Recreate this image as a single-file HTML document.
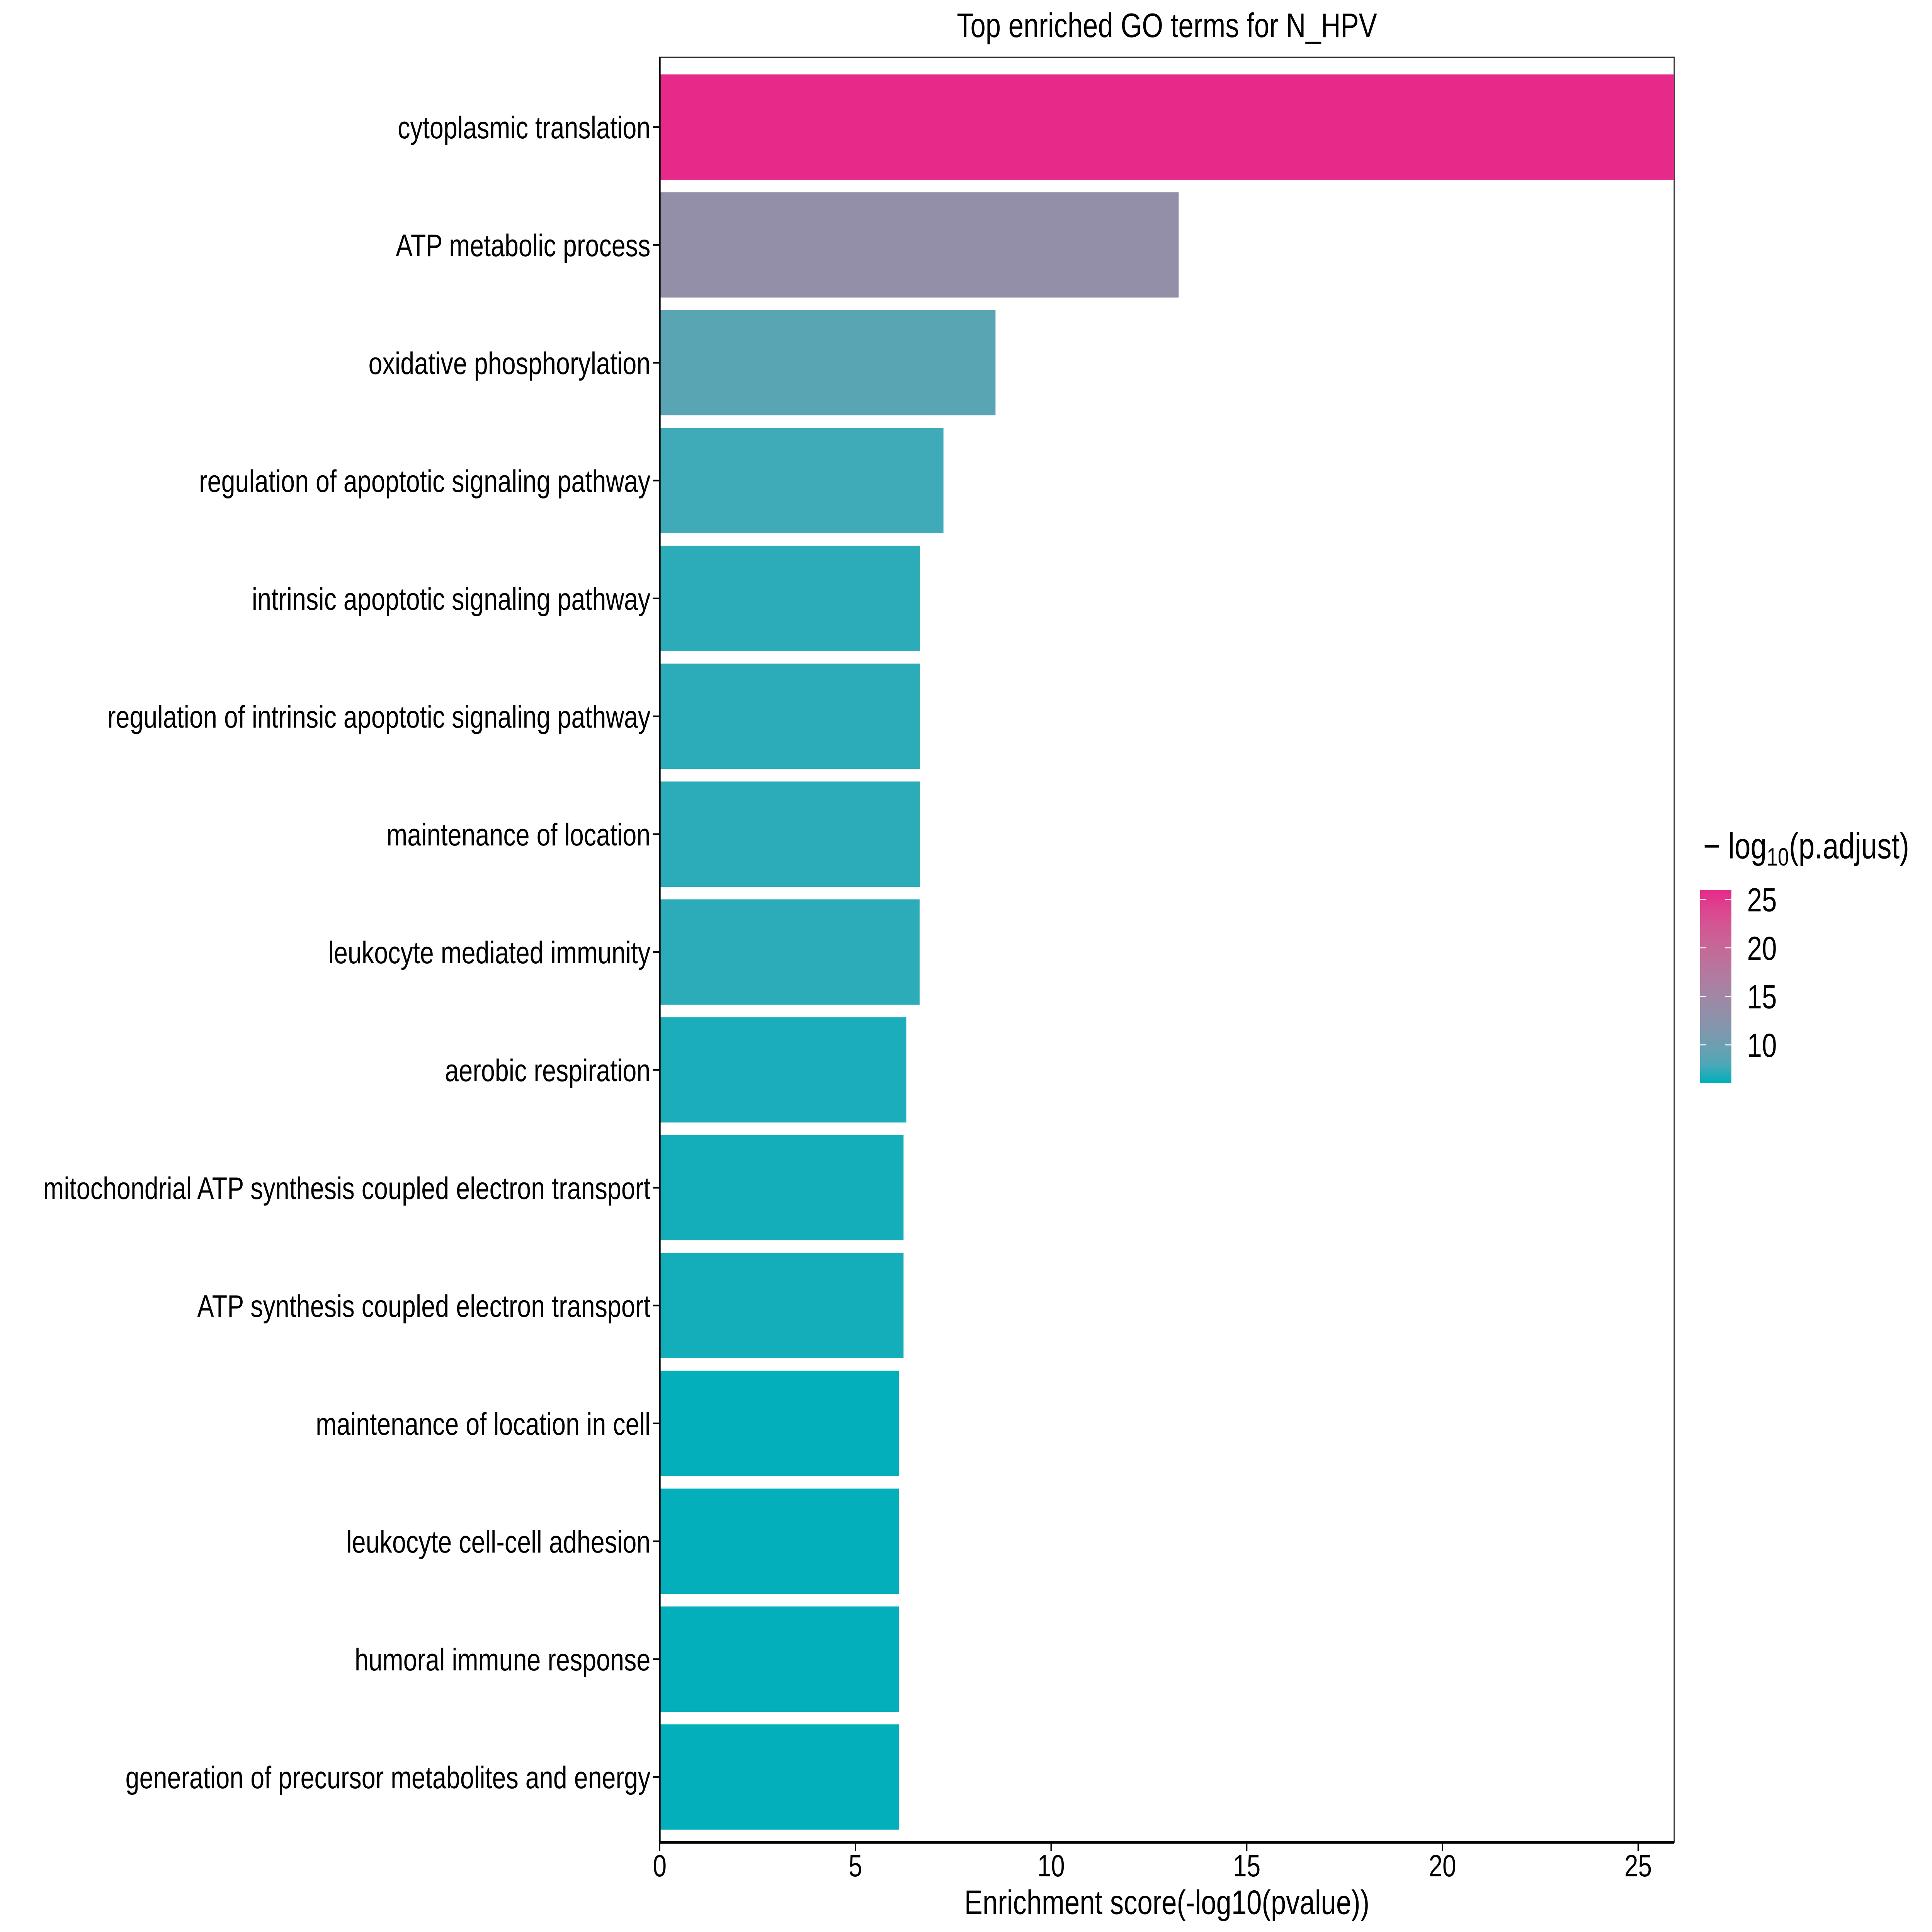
<!DOCTYPE html>
<html><head><meta charset="utf-8">
<style>
html,body{margin:0;padding:0;background:#fff;width:100%;height:100%;overflow:hidden;}
svg{display:block;font-family:"Liberation Sans",sans-serif;width:100vw;height:100vh;}
</style></head>
<body>
<svg id="chart" viewBox="0 0 7500 6000" preserveAspectRatio="none" xmlns="http://www.w3.org/2000/svg">
<defs>
<linearGradient id="cbar" x1="0" y1="1" x2="0" y2="0"></linearGradient>
</defs>
<text x="4530" y="115" font-size="106" text-anchor="middle">Top enriched GO terms for N_HPV</text>
<g id="plot"></g>
<text x="4530" y="5944" font-size="106" text-anchor="middle">Enrichment score(-log10(pvalue))</text>
<g id="legend">
<text x="6612" y="2666" font-size="112">− log<tspan font-size="78" dy="22">10</tspan><tspan dy="-22">(p.adjust)</tspan></text>
<rect x="6600" y="2764" width="121" height="599" fill="url(#cbar)"/>
<g id="cbticks"></g>
</g>
</svg>
<script>
const categories = ["cytoplasmic translation","ATP metabolic process","oxidative phosphorylation","regulation of apoptotic signaling pathway","intrinsic apoptotic signaling pathway","regulation of intrinsic apoptotic signaling pathway","maintenance of location","leukocyte mediated immunity","aerobic respiration","mitochondrial ATP synthesis coupled electron transport","ATP synthesis coupled electron transport","maintenance of location in cell","leukocyte cell-cell adhesion","humoral immune response","generation of precursor metabolites and energy"];
const scores = [25.92,13.26,8.58,7.25,6.65,6.65,6.65,6.64,6.30,6.23,6.23,6.11,6.11,6.11,6.11];
const padj = [25.9,13.3,8.6,7.3,6.7,6.7,6.7,6.7,6.35,6.25,6.25,6.1,6.1,6.1,6.1];
const xTicks = [0,5,10,15,20,25];
const legendTicks = [10,15,20,25];

const NS="http://www.w3.org/2000/svg";
const X0=2561, X1=6499, XMAX=25.92;
const xScale=v=>X0+(v-0)*(X1-X0)/XMAX;
const PT=178, PB=5722, FIRST=394.5, PITCH=366, BH=327;
const yScale=i=>FIRST+i*PITCH;
const cMin=6.08, cMax=25.96;
function toLin(c){c/=255;return c<=0.04045?c/12.92:Math.pow((c+0.055)/1.055,2.4);}
function fromLin(c){c=c<=0.0031308?12.92*c:1.055*Math.pow(c,1/2.4)-0.055;return Math.max(0,Math.min(255,Math.round(c*255)));}
function rgb2lab(r,g,b){r=toLin(r);g=toLin(g);b=toLin(b);
let x=(r*0.4124+g*0.3576+b*0.1805)/0.95047,y=r*0.2126+g*0.7152+b*0.0722,z=(r*0.0193+g*0.1192+b*0.9505)/1.08883;
const f=t=>t>0.008856?Math.cbrt(t):7.787*t+16/116;x=f(x);y=f(y);z=f(z);return [116*y-16,500*(x-y),200*(y-z)];}
function lab2rgb(L,a,bb){let y=(L+16)/116,x=a/500+y,z=y-bb/200;
const g=t=>t*t*t>0.008856?t*t*t:(t-16/116)/7.787;x=g(x)*0.95047;y=g(y);z=g(z)*1.08883;
const r=x*3.2406+y*-1.5372+z*-0.4986,gg=x*-0.9689+y*1.8758+z*0.0415,b=x*0.0557+y*-0.2040+z*1.0570;
return `rgb(${fromLin(r)},${fromLin(gg)},${fromLin(b)})`;}
const lo=rgb2lab(0,175,187), hi=rgb2lab(231,41,138);
function colorOf(v){let t=(v-cMin)/(cMax-cMin);t=Math.max(0,Math.min(1,t));return lab2rgb(lo[0]+(hi[0]-lo[0])*t,lo[1]+(hi[1]-lo[1])*t,lo[2]+(hi[2]-lo[2])*t);}
function mk(tag,attrs,parent){const e=document.createElementNS(NS,tag);for(const k in attrs)e.setAttribute(k,attrs[k]);parent.appendChild(e);return e;}

const plot=document.getElementById('plot');
const border=mk('rect',{x:X0,y:PT,width:X1-X0,height:PB-PT,fill:'none',stroke:'#333','stroke-width':4},plot);


categories.forEach((c,i)=>{
  const yc=yScale(i);
  const r=mk('rect',{x:X0,y:yc-BH/2,width:xScale(scores[i])-X0,height:BH,fill:colorOf(padj[i])},plot);
  
  
  const tk=mk('line',{x1:X0-26,x2:X0,y1:yc,y2:yc,stroke:'#000','stroke-width':5},plot);
  
  
  const t=mk('text',{x:X0-36,y:yc+35,'font-size':97,'text-anchor':'end'},plot);
  t.textContent=c;
  
  
});
const yax=mk('line',{x1:X0,x2:X0,y1:PT,y2:PB,stroke:'#000','stroke-width':7},plot);


const xax=mk('line',{x1:X0,x2:X1,y1:PB,y2:PB,stroke:'#000','stroke-width':8},plot);


xTicks.forEach(v=>{
  const x=xScale(v);
  const l=mk('line',{x1:x,x2:x,y1:PB,y2:PB+26,stroke:'#000','stroke-width':5},plot);
  
  
  const t=mk('text',{x:x,y:5827,'font-size':96,'text-anchor':'middle'},plot);
  t.textContent=v;
  
  
});
const grad=document.getElementById('cbar');
for(let k=0;k<=10;k++){const v=cMin+(cMax-cMin)*k/10;
  mk('stop',{offset:(k*10)+'%','stop-color':colorOf(v)},grad);}
const CB_T=2764, CB_B=3363;
const cbY=v=>CB_B-(v-cMin)*(CB_B-CB_T)/(cMax-cMin);
const cbt=document.getElementById('cbticks');
legendTicks.forEach(v=>{
  const y=cbY(v);
  const a=mk('line',{x1:6600,x2:6624,y1:y,y2:y,stroke:'#fff','stroke-width':3},cbt);
  
  
  const b=mk('line',{x1:6697,x2:6721,y1:y,y2:y,stroke:'#fff','stroke-width':3},cbt);
  
  
  const t=mk('text',{x:6782,y:y+37,'font-size':104},cbt);
  t.textContent=v;
  
  
});
</script>
</body></html>
